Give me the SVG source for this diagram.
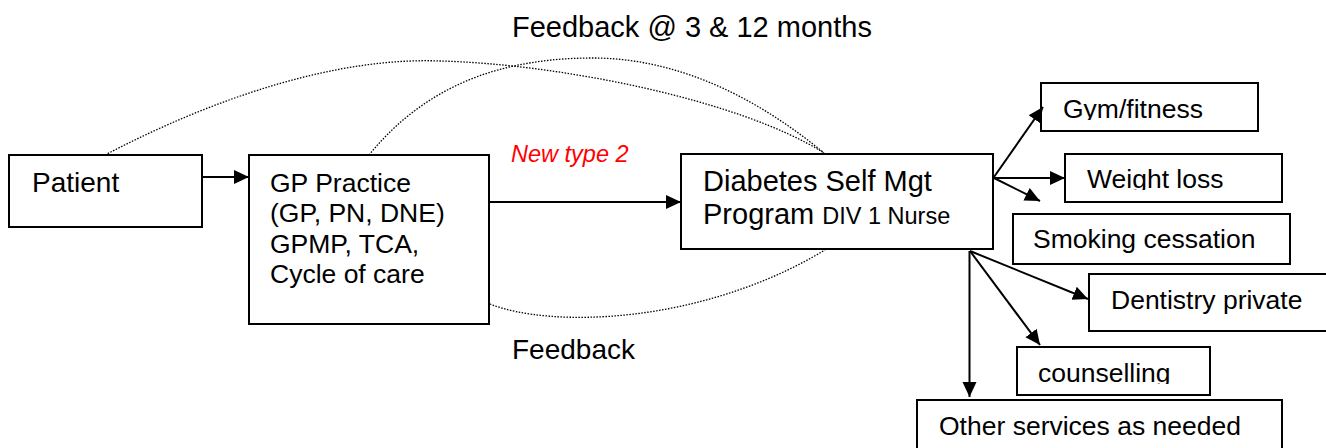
<svg xmlns="http://www.w3.org/2000/svg" width="1326" height="448" viewBox="0 0 1326 448">
<style>
.box{fill:#fff;stroke:#000;stroke-width:2}
.t{font-family:"Liberation Sans",Arial,sans-serif;fill:#000}
.big{font-size:28px}
.xl{font-size:29px}
.mid{font-size:26.5px}
.conn{fill:none;stroke:#000;stroke-width:2}
.dot{fill:none;stroke:#000;stroke-width:1.3;stroke-dasharray:1.5 1.5}
</style>
<defs>
<marker id="ah" markerUnits="userSpaceOnUse" markerWidth="16" markerHeight="16" refX="15" refY="7" orient="auto" viewBox="0 0 16 14">
<path d="M0,0 L15,7 L0,14 z" fill="#000"/>
</marker>
<clipPath id="cGym"><rect x="1041" y="83" width="217" height="37"/></clipPath>
<clipPath id="cWeight"><rect x="1065" y="154" width="217" height="36"/></clipPath>
<clipPath id="cCouns"><rect x="1017" y="347" width="193" height="37"/></clipPath>
</defs>
<rect width="1326" height="448" fill="#fff"/>

<g id="feedback-labels">
<text class="t xl" x="512" y="37">Feedback @ 3 &amp; 12 months</text>
<text class="t big" x="512" y="359">Feedback</text>
</g>

<g id="patient">
<rect class="box" x="9" y="155" width="193" height="72"/>
<text class="t big" x="32" y="192">Patient</text>
</g>

<g id="gp-practice">
<rect class="box" x="249" y="155" width="240" height="169"/>
<text class="t mid" x="270" y="192">GP Practice</text>
<text class="t mid" x="270" y="222">(GP, PN, DNE)</text>
<text class="t mid" x="270" y="253">GPMP, TCA,</text>
<text class="t mid" x="270" y="283">Cycle of care</text>
</g>

<g id="dsm-program">
<rect class="box" x="681" y="154" width="312" height="95"/>
<text class="t xl" x="703" y="191">Diabetes Self Mgt</text>
<text class="t xl" x="703" y="224">Program <tspan font-size="23.5">DIV 1 Nurse</tspan></text>
</g>

<g id="gym">
<rect class="box" x="1041" y="83" width="217" height="48"/>
<text class="t mid" x="1063" y="118" clip-path="url(#cGym)">Gym/fitness</text>
</g>

<g id="weight-loss">
<rect class="box" x="1065" y="154" width="217" height="48"/>
<text class="t mid" x="1087" y="188" clip-path="url(#cWeight)">Weight loss</text>
</g>

<g id="smoking">
<rect class="box" x="1013" y="214" width="277" height="50"/>
<text class="t mid" x="1033" y="248">Smoking cessation</text>
</g>

<g id="dentistry">
<rect class="box" x="1089" y="274" width="245" height="57"/>
<text class="t mid" x="1111" y="309">Dentistry private</text>
</g>

<g id="counselling">
<rect class="box" x="1017" y="347" width="193" height="48"/>
<text class="t mid" x="1038" y="382" clip-path="url(#cCouns)">counselling</text>
</g>

<g id="other-services">
<rect class="box" x="917" y="400" width="365" height="60"/>
<text class="t mid" x="939" y="435">Other services as needed</text>
</g>

<g id="connectors">
<path class="conn" d="M202,177 L249,177" marker-end="url(#ah)"/>
<path class="conn" d="M489,202 L681,202" marker-end="url(#ah)"/>
<text class="t" x="511" y="162" font-size="23.5" font-style="italic" style="fill:#ff0000">New type 2</text>
<path class="conn" d="M994,177 L1043,107" marker-end="url(#ah)"/>
<path class="conn" d="M994,178 L1065,178" marker-end="url(#ah)"/>
<path class="conn" d="M994,178 L1040,201" marker-end="url(#ah)"/>
<path class="conn" d="M969.5,251 L969.5,397" marker-end="url(#ah)"/>
<path class="conn" d="M970,251 L1040,345" marker-end="url(#ah)"/>
<path class="conn" d="M970,251 L1088,299" marker-end="url(#ah)"/>
<path class="dot" d="M105,155 C220,95 340,57 440,61 C560,64 740,100 824,153"/>
<path class="dot" d="M369,155 C430,80 510,58 593,58 C680,58 760,100 824,153"/>
<path class="dot" d="M490,304 C550,328 700,325 825,250"/>
</g>
</svg>
